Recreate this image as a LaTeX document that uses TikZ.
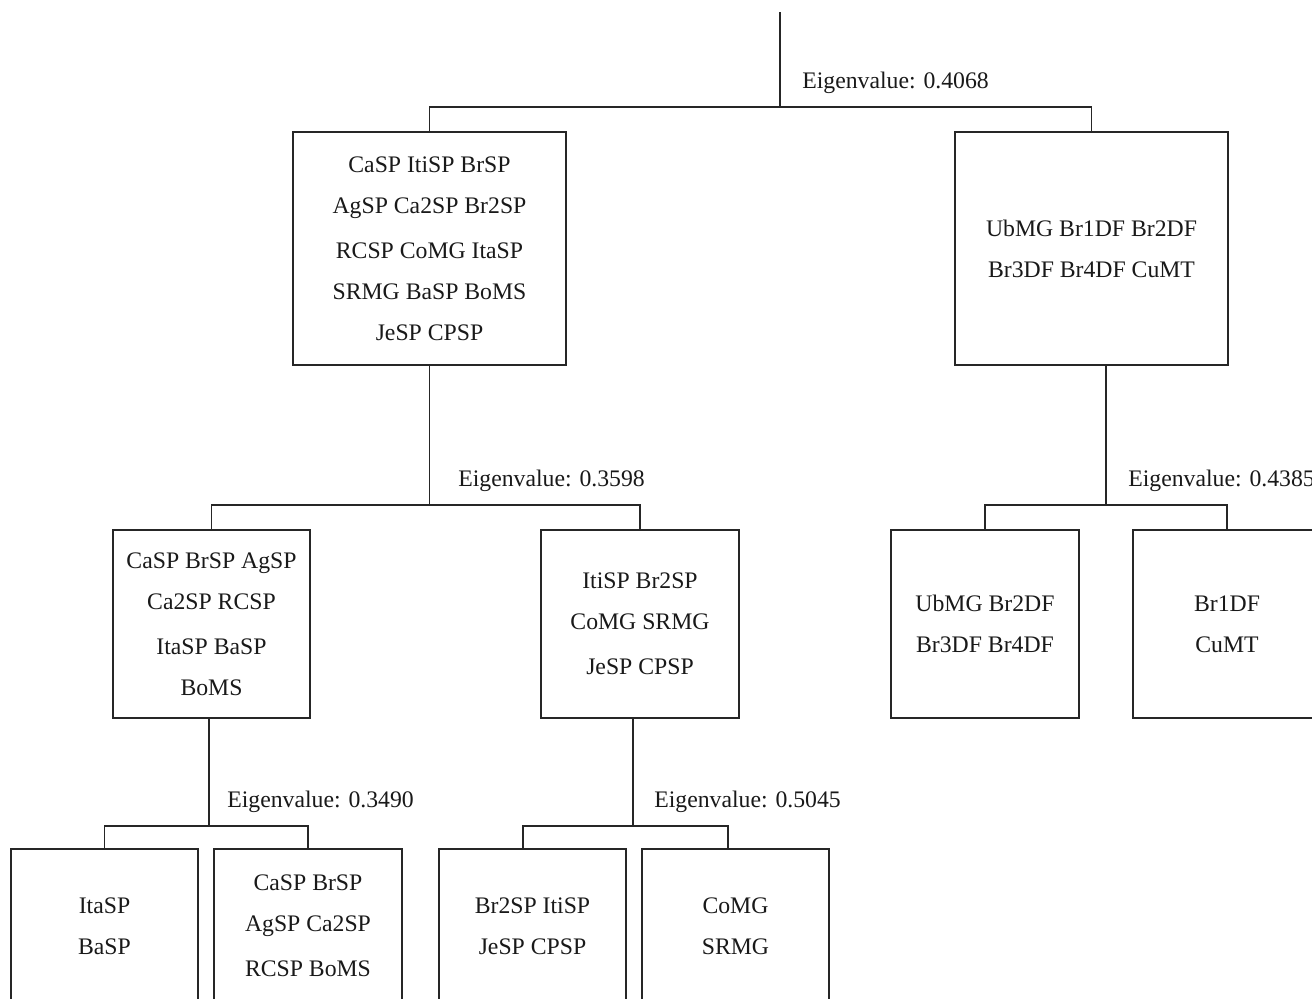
\documentclass[tikz,border=0pt]{standalone}
\usepackage{fontspec}
\setmainfont{Liberation Serif}
\usepackage{tikz}
\tikzset{
	groupbox/.style={draw=black!85, line width=0.6pt, text=black!90, align=center,
		font=\fontsize{13.5}{23.3}\selectfont, inner sep=0pt},
	eigenlabel/.style={anchor=base west, inner sep=0pt, text=black!90,
		font=\fontsize{13.5}{16}\selectfont},
	link/.style={draw=black!85, line width=0.6pt}
}

\begin{document}
\begin{tikzpicture}
			%%%%% START %%%%%
			\useasboundingbox (0, 0) rectangle (26.24, -19.96);
			\clip (0, 0) rectangle (26.24, -19.96);
			
			% level 1
			\node[groupbox, minimum width=5.46cm, minimum height=4.66cm] (A) at (8.59, -4.97) {CaSP ItiSP BrSP\\AgSP Ca2SP Br2SP\\[2.3pt]RCSP CoMG ItaSP\\SRMG BaSP BoMS\\JeSP CPSP};
			\node[groupbox, minimum width=5.46cm, minimum height=4.66cm] (B) at (21.83, -4.97) {UbMG Br1DF Br2DF\\Br3DF Br4DF CuMT};
			
			% level 2
			\node[groupbox, minimum width=3.94cm, minimum height=3.76cm] (C) at (4.23, -12.48) {CaSP BrSP AgSP\\Ca2SP RCSP\\[2.3pt]ItaSP BaSP\\BoMS};
			\node[groupbox, minimum width=3.96cm, minimum height=3.76cm] (D) at (12.80, -12.48) {ItiSP Br2SP\\CoMG SRMG\\[2.3pt]JeSP CPSP};
			\node[groupbox, minimum width=3.76cm, minimum height=3.76cm] (E) at (19.70, -12.48) {UbMG Br2DF\\Br3DF Br4DF};
			\node[groupbox, minimum width=3.76cm, minimum height=3.76cm] (F) at (24.54, -12.48) {Br1DF\\CuMT};
			
			% level 3
			\node[groupbox, minimum width=3.74cm, minimum height=3.08cm] (G) at (2.09, -18.52) {ItaSP\\BaSP};
			\node[groupbox, minimum width=3.76cm, minimum height=3.08cm] (H) at (6.16, -18.52) {CaSP BrSP\\AgSP Ca2SP\\[2.3pt]RCSP BoMS};
			\node[groupbox, minimum width=3.74cm, minimum height=3.08cm] (I) at (10.65, -18.52) {Br2SP ItiSP\\JeSP CPSP};
			\node[groupbox, minimum width=3.74cm, minimum height=3.08cm] (J) at (14.71, -18.52) {CoMG\\SRMG};
			
			% split points
			\coordinate (root) at (15.60, -0.24);
			\coordinate (j0) at (15.60, -2.14);
			\coordinate (j1) at (8.59, -10.10);
			\coordinate (j2) at (22.12, -10.10);
			\coordinate (j3) at (4.18, -16.52);
			\coordinate (j4) at (12.66, -16.52);
			\coordinate (lI) at (10.46, -16.52);
			\coordinate (rJ) at (14.56, -16.52);
			
			\draw[link] (root) -- (j0);
			\draw[link] (A.north) |- (j0) -| (B.north);
			\draw[link] (A.south) -- (j1);
			\draw[link] (C.north) |- (j1) -| (D.north);
			\draw[link] (B.south -| j2) -- (j2);
			\draw[link] (E.north) |- (j2) -| (F.north);
			\draw[link] (C.south -| j3) -- (j3);
			\draw[link] (G.north) |- (j3) -| (H.north);
			\draw[link] (D.south -| j4) -- (j4);
			\draw[link] (lI |- I.north) |- (j4) -| (rJ |- J.north);
			
			% eigenvalues
			\node[eigenlabel] (e0) at (16.04, -1.76) {Eigenvalue: 0.4068};
			\node[eigenlabel] (e1) at (9.16, -9.72) {Eigenvalue: 0.3598};
			\node[eigenlabel] (e2) at (22.56, -9.72) {Eigenvalue: 0.4385};
			\node[eigenlabel] (e3) at (4.54, -16.14) {Eigenvalue: 0.3490};
			\node[eigenlabel] (e4) at (13.08, -16.14) {Eigenvalue: 0.5045};
			%%%%% END %%%%%
		\end{tikzpicture}
\end{document}
